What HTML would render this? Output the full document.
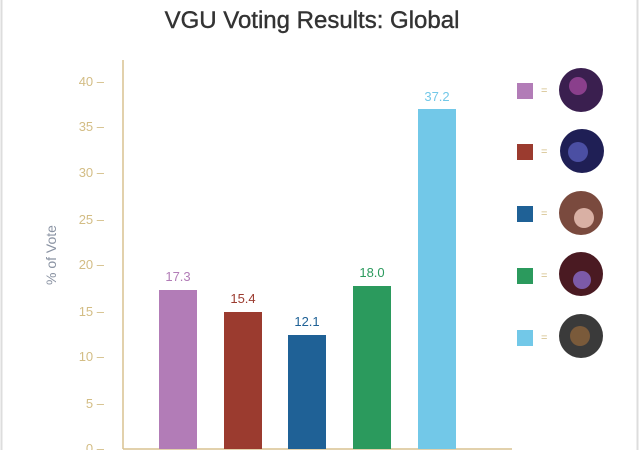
<!DOCTYPE html>
<html><head><style>
body{margin:0;background:#fff;}
</style></head><body>
<svg width="640" height="450" xmlns="http://www.w3.org/2000/svg" font-family="Liberation Sans, sans-serif">
<rect width="640" height="450" fill="#fff"/>
<line x1="1.5" y1="0" x2="1.5" y2="450" stroke="#ddd" stroke-width="2"/>
<line x1="637.5" y1="0" x2="637.5" y2="450" stroke="#ddd" stroke-width="2"/>
<text x="312" y="28" text-anchor="middle" font-size="24" fill="#333" stroke="#333" stroke-width="0.4">VGU Voting Results: Global</text>
<line x1="123" y1="60" x2="123" y2="449" stroke="#d9c291" stroke-width="1.5"/>
<line x1="123" y1="449" x2="512" y2="449" stroke="#d9c291" stroke-width="1.5"/>
<g font-size="13" fill="#d3bd85" text-anchor="end">
<text x="104" y="86">40 –</text>
<text x="104" y="131">35 –</text>
<text x="104" y="177">30 –</text>
<text x="104" y="224">25 –</text>
<text x="104" y="269">20 –</text>
<text x="104" y="316">15 –</text>
<text x="104" y="361">10 –</text>
<text x="104" y="408">5 –</text>
<text x="104" y="453">0 –</text>
</g>
<text transform="translate(56,255) rotate(-90)" text-anchor="middle" font-size="14" fill="#8a93a3">% of Vote</text>
<rect x="159" y="290" width="38" height="159" fill="#b27cb7"/>
<rect x="224" y="312" width="38" height="137" fill="#9b3b2f"/>
<rect x="288" y="335" width="38" height="114" fill="#1f6196"/>
<rect x="353" y="286" width="38" height="163" fill="#2b9a5d"/>
<rect x="418" y="109" width="38" height="340" fill="#72c8e8"/>
<g font-size="13" text-anchor="middle">
<text x="178" y="281" fill="#b27cb7">17.3</text>
<text x="243" y="303" fill="#9b3b2f">15.4</text>
<text x="307" y="326" fill="#1f6196">12.1</text>
<text x="372" y="277" fill="#2b9a5d">18.0</text>
<text x="437" y="101" fill="#72c8e8">37.2</text>
</g>
<g font-size="11" fill="#d3bd85">
<rect x="517" y="83" width="16" height="16" fill="#b27cb7"/><text x="541" y="94">=</text>
<rect x="517" y="144" width="16" height="16" fill="#9b3b2f"/><text x="541" y="155">=</text>
<rect x="517" y="206" width="16" height="16" fill="#1f6196"/><text x="541" y="217">=</text>
<rect x="517" y="268" width="16" height="16" fill="#2b9a5d"/><text x="541" y="279">=</text>
<rect x="517" y="330" width="16" height="16" fill="#72c8e8"/><text x="541" y="341">=</text>
</g>
<circle cx="581" cy="90" r="22" fill="#3a1f4f"/><circle cx="578" cy="86" r="9" fill="#8a3f8c"/>
<circle cx="582" cy="151" r="22" fill="#1f1f55"/><circle cx="578" cy="152" r="10" fill="#4b4fa3"/>
<circle cx="581" cy="213" r="22" fill="#7a4a3e"/><circle cx="584" cy="218" r="10" fill="#d9b0a4"/>
<circle cx="581" cy="274" r="22" fill="#4a1a22"/><circle cx="582" cy="280" r="9" fill="#7c5aa8"/>
<circle cx="581" cy="336" r="22" fill="#3a3a3a"/><circle cx="580" cy="336" r="10" fill="#7a5a3a"/>
</svg>
</body></html>
